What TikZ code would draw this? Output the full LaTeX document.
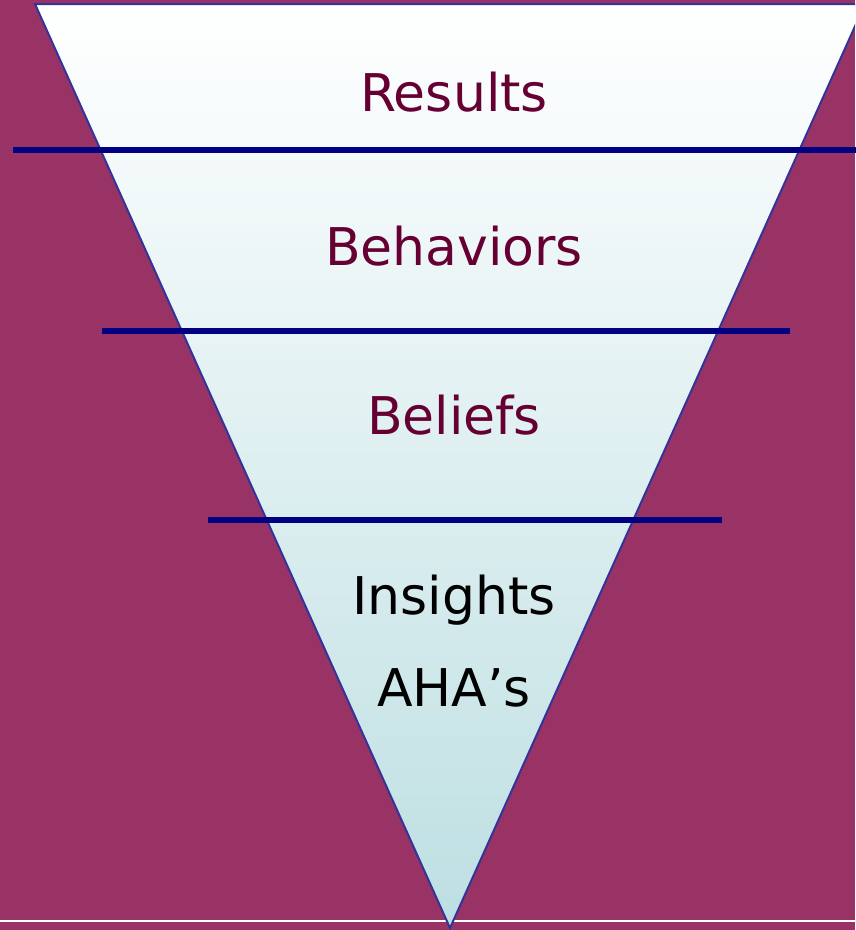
\documentclass[tikz,border=0pt]{standalone}
\usepackage{fontspec}
\setmainfont{DejaVu Sans}
\usepackage{tikz}
\usetikzlibrary{positioning}

\definecolor{plum}{HTML}{993366}
\definecolor{wine}{HTML}{660033}
\definecolor{navy}{HTML}{000080}
\definecolor{rim}{HTML}{333399}
\definecolor{aqua}{HTML}{BDDFE2}

\begin{document}
\begin{tikzpicture}[x=1pt,y=-1pt]
  \tikzstyle{level}=[text=wine,font=\fontsize{52}{52}\selectfont,inner sep=0pt]
  \tikzstyle{base}=[level,text=black]
  \tikzstyle{divider}=[navy,line width=6pt]

  % background
  \fill[plum] (0,0) rectangle (855,930);
  \useasboundingbox (0,0) rectangle (855,930);
  \draw[white,line width=1.2pt] (0,921) -- (855,921);

  % funnel
  \begin{scope}
    \clip (0,0) rectangle (855,930);
    \shade[top color=white,bottom color=aqua,draw=rim,line width=2pt]
      (35,4) -- (865,4) -- (450,928) -- cycle;
  \end{scope}

  % dividers
  \coordinate (d1a) at (13,150);  \coordinate (d1b) at (860,150);
  \coordinate (d2a) at (102,331); \coordinate (d2b) at (790,331);
  \coordinate (d3a) at (208,520); \coordinate (d3b) at (722,520);
  \draw[divider] (d1a) -- (d1b);
  \draw[divider] (d2a) -- (d2b);
  \draw[divider] (d3a) -- (d3b);

  % labels
  \node[level] (R) at (454,92)  {Results};
  \node[level] (B) at (454,246) {Behaviors};
  \node[level] (F) at (454,415) {Beliefs};
  \node[base]  (I) at (454,600) {Insights};
  \node[base]  (A) at (454,688) {AHA’s};
\end{tikzpicture}
\end{document}
